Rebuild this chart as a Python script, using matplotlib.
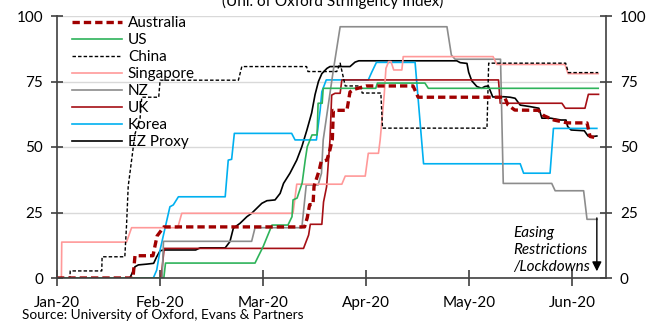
import numpy as np
import matplotlib
matplotlib.use('Agg')
import matplotlib.pyplot as plt

plt.rcParams['font.family'] = ['Lato', 'DejaVu Sans']

# x = days since 1 Jan 2020 (months drawn equally spaced, as in the source chart)
month_labels = ['Jan-20', 'Feb-20', 'Mar-20', 'Apr-20', 'May-20', 'Jun-20']
month_len = 30.4

aus_d = [0, 22.4, 23, 28.3, 29.5, 31.5, 73, 73.8, 74.5, 75.5, 75.8, 77.3, 77.9, 79.6, 80.5, 81.2, 81.5,
         85.5, 86.4, 87.6, 91.2, 105, 106.5, 132, 133, 135, 142, 143.5, 146.5, 150.5, 156.3, 157.2, 159.5]
aus_v = [0, 0, 8.5, 8.5, 16, 19.5, 19.5, 23, 28, 28, 35, 41, 44.4, 45, 49, 53, 64,
         64, 71, 72, 73.3, 73.3, 69, 69, 66, 64.1, 64, 62, 60.3, 59.2, 59.2, 54, 53.4]

us_d = [0, 31.5, 32, 58.4, 59.3, 60.8, 62, 63.4, 68.1, 69.3, 69.6, 70.8, 72.3, 73.2, 73.8, 75.2, 76.7,
        77, 78.2, 78.5, 94, 94.5, 108.5, 109.5, 159.6]
us_v = [0, 0, 5.7, 5.7, 8.1, 12, 15.8, 20.2, 20.2, 23.4, 29.8, 30.5, 36.3, 45, 50.1, 54.6, 54.6,
        66.7, 66.7, 72.4, 72.4, 74.4, 74.4, 72.4, 72.4]

china_d = [0, 3.8, 3.9, 13.2, 13.3, 20, 20.5, 21, 22, 23, 24.5, 25, 30, 30.4, 53.5, 54.5, 73.6, 74,
           82.5, 83.5, 85, 89.5, 90, 95.5, 96, 126.8, 127.3, 150, 150.8, 159.6]
china_v = [0, 0, 2.7, 2.7, 8.1, 8.1, 20, 35, 45, 55, 61, 69, 69, 75.5, 75.5, 80.7, 80.7, 78.8,
           78.8, 82, 73.3, 73.3, 70.6, 70.6, 57.2, 57.2, 82, 82, 78.4, 78.4]

sing_d = [0, 1.3, 1.4, 20.5, 22, 35.6, 36.8, 69.6, 70.7, 84, 85, 90.9, 91.8, 94.8, 95.3, 96.5, 97, 97.8,
          98.5, 99.3, 101.7, 102.1, 128.6, 129.7, 149.8, 150.7, 159.6]
sing_v = [0, 0, 13.7, 13.7, 19.2, 19.2, 24.7, 24.7, 35.8, 35.8, 38.9, 38.9, 47.6, 47.6, 52.7, 70, 80, 82.6,
          82.6, 79.4, 79.4, 84.5, 84.5, 81.5, 81.5, 78, 78]

nz_d = [0, 31, 31.4, 57.4, 58.4, 72.2, 73.5, 77, 78, 78.5, 81.5, 83.5, 115, 116.3, 117.4, 130.8, 131.6,
        145.9, 146.9, 155.3, 156.3, 159.3]
nz_v = [0, 0, 14, 14, 19.2, 19.2, 35.5, 35.5, 40, 52.7, 79.4, 95.9, 95.9, 85.1, 83.5, 83.5, 36.1,
        36.1, 33.3, 33.3, 22.4, 22.4]

uk_d = [0, 30.7, 31.6, 72.7, 74.2, 74.7, 78.1, 78.6, 79.5, 80.5, 81, 82, 83.5, 84, 130.2, 130.7,
        148.9, 149.9, 155.7, 156.7, 159.7]
uk_v = [0, 0, 11.3, 11.3, 16.4, 20.5, 20.5, 29, 34.8, 52.7, 69.8, 70.5, 70.5, 75.6, 75.6, 66.7,
        66.7, 64.8, 64.8, 70.1, 70.1]

kor_d = [0, 28.4, 29.4, 30.4, 31.5, 33.3, 34.3, 35.8, 49.6, 50.5, 51.5, 52.3, 69.2, 70.2, 76.5, 77.6,
         78.1, 79.4, 91.8, 92.8, 94.2, 105.6, 108.1, 136.6, 137.6, 145.4, 146.4, 159.2]
kor_v = [0, 0, 3, 10.7, 17, 27.2, 27.9, 31, 31, 45, 45.3, 55.2, 55.2, 52.7, 52.7, 64,
         71.1, 75.6, 75.6, 78.5, 82.3, 82.3, 43.6, 43.6, 40, 40, 57.1, 57.1]

ez_d = [0, 21.5, 23, 24, 26.5, 28.5, 29.4, 30.4, 31.6, 40.9, 42.2, 49.6, 51, 52, 54, 56, 57.4, 58.9,
        60.4, 61.9, 64.3, 65.8, 66.8, 68.7, 70.7, 72.2, 73.7, 75.1, 76.1, 77.1, 78.1, 79.6, 80.5, 86.4,
        87.9, 89, 117.9, 118.9, 120.9, 121.4, 122.3, 123.8, 125.2, 126.2, 127.2, 128.5, 130.7, 131.7,
        133.6, 135.1, 136.6, 139.6, 142.1, 143, 145.6, 148.6, 150.1, 150.6, 151.6, 155.5, 156.6, 157.5, 159.2]
ez_v = [0, 0, 4.3, 5, 5.3, 5.6, 8.1, 10.4, 10.7, 10.7, 11.5, 11.5, 13.9, 19, 20.9, 23.4, 24.7, 26.6,
        28.5, 29.5, 29.8, 32.3, 36.1, 40, 45, 50.1, 56.5, 63, 70, 75, 78, 80, 80.7, 80.7,
        82.4, 82.9, 82.9, 82.2, 81.9, 78.5, 75.3, 73.1, 72.4, 73.1, 73.3, 69.1, 69.1, 69.2,
        69, 68.6, 66, 65.4, 64.8, 61, 61, 60.3, 60.3, 57.8, 56.5, 56.2, 54.2, 53.9, 54.2]

fig = plt.figure(figsize=(6.52, 3.22), dpi=100)
ax = fig.add_axes([57 / 652, 1 - 278 / 322, 549 / 652, 262 / 322])

h_ez, = ax.plot(ez_d, ez_v, color='black', lw=1.2, label='EZ Proxy')
h_kor, = ax.plot(kor_d, kor_v, color='#00B0F0', lw=1.2, label='Korea')
h_uk, = ax.plot(uk_d, uk_v, color='#A50F15', lw=1.2, label='UK')
h_nz, = ax.plot(nz_d, nz_v, color='#8C8C8C', lw=1.2, label='NZ')
h_sing, = ax.plot(sing_d, sing_v, color='#FF9999', lw=1.2, label='Singapore')
h_china, = ax.plot(china_d, china_v, color='black', lw=1.0, ls=(0, (2.5, 1.5)), label='China')
h_us, = ax.plot(us_d, us_v, color='#2EB35A', lw=1.2, label='US')
h_aus, = ax.plot(aus_d, aus_v, color='#A00000', lw=2.4, ls=(0, (2.2, 1.2)), label='Australia')

ax.set_xlim(0, 161.9)
ax.set_ylim(0, 100)
ax.set_xticks(np.arange(len(month_labels)) * month_len)
ax.set_xticklabels(month_labels)
ax.set_yticks([0, 25, 50, 75, 100])
ax.yaxis.set_ticks_position('both')
ax.tick_params(axis='y', labelright=True, direction='inout', length=8, width=1.2,
               color='#404040', labelsize=11, pad=6)
ax.tick_params(axis='x', direction='inout', length=12, width=1.2, color='#404040',
               labelsize=11, pad=7)
ax.grid(axis='y', color='#D9D9D9', lw=1.0)
ax.set_axisbelow(True)
ax.spines['top'].set_visible(False)
for s in ['left', 'right', 'bottom']:
    ax.spines[s].set_color('#404040')
    ax.spines[s].set_linewidth(1.2)

handles = [h_aus, h_us, h_china, h_sing, h_nz, h_uk, h_kor, h_ez]
ax.legend(handles=handles, loc='upper left', bbox_to_anchor=(72 / 652, 1 - 16 / 322),
          bbox_transform=fig.transFigure, frameon=False, fontsize=11, handlelength=3.3,
          handletextpad=0.35, labelspacing=0.2, borderpad=0, borderaxespad=0)

# easing annotation
ax.annotate('', xy=(159.2, 1.5), xytext=(159.2, 24),
            arrowprops=dict(arrowstyle='-|>', color='black', lw=1.0, mutation_scale=14))
ax.text(134.5, 20, 'Easing\nRestrictions\n/Lockdowns', style='italic', fontsize=11,
        ha='left', va='top', linespacing=1.3)

# title sits partly above the canvas, as in the source image
fig.text(333 / 652, 1 - 6 / 322, '(Uni. of Oxford Stringency Index)', ha='center',
         va='baseline', fontsize=11)
fig.text(22 / 652, 1 - 315 / 322, 'Source: University of Oxford, Evans & Partners',
         ha='left', va='center', fontsize=9.8)

fig.savefig('out.png', dpi=100)
